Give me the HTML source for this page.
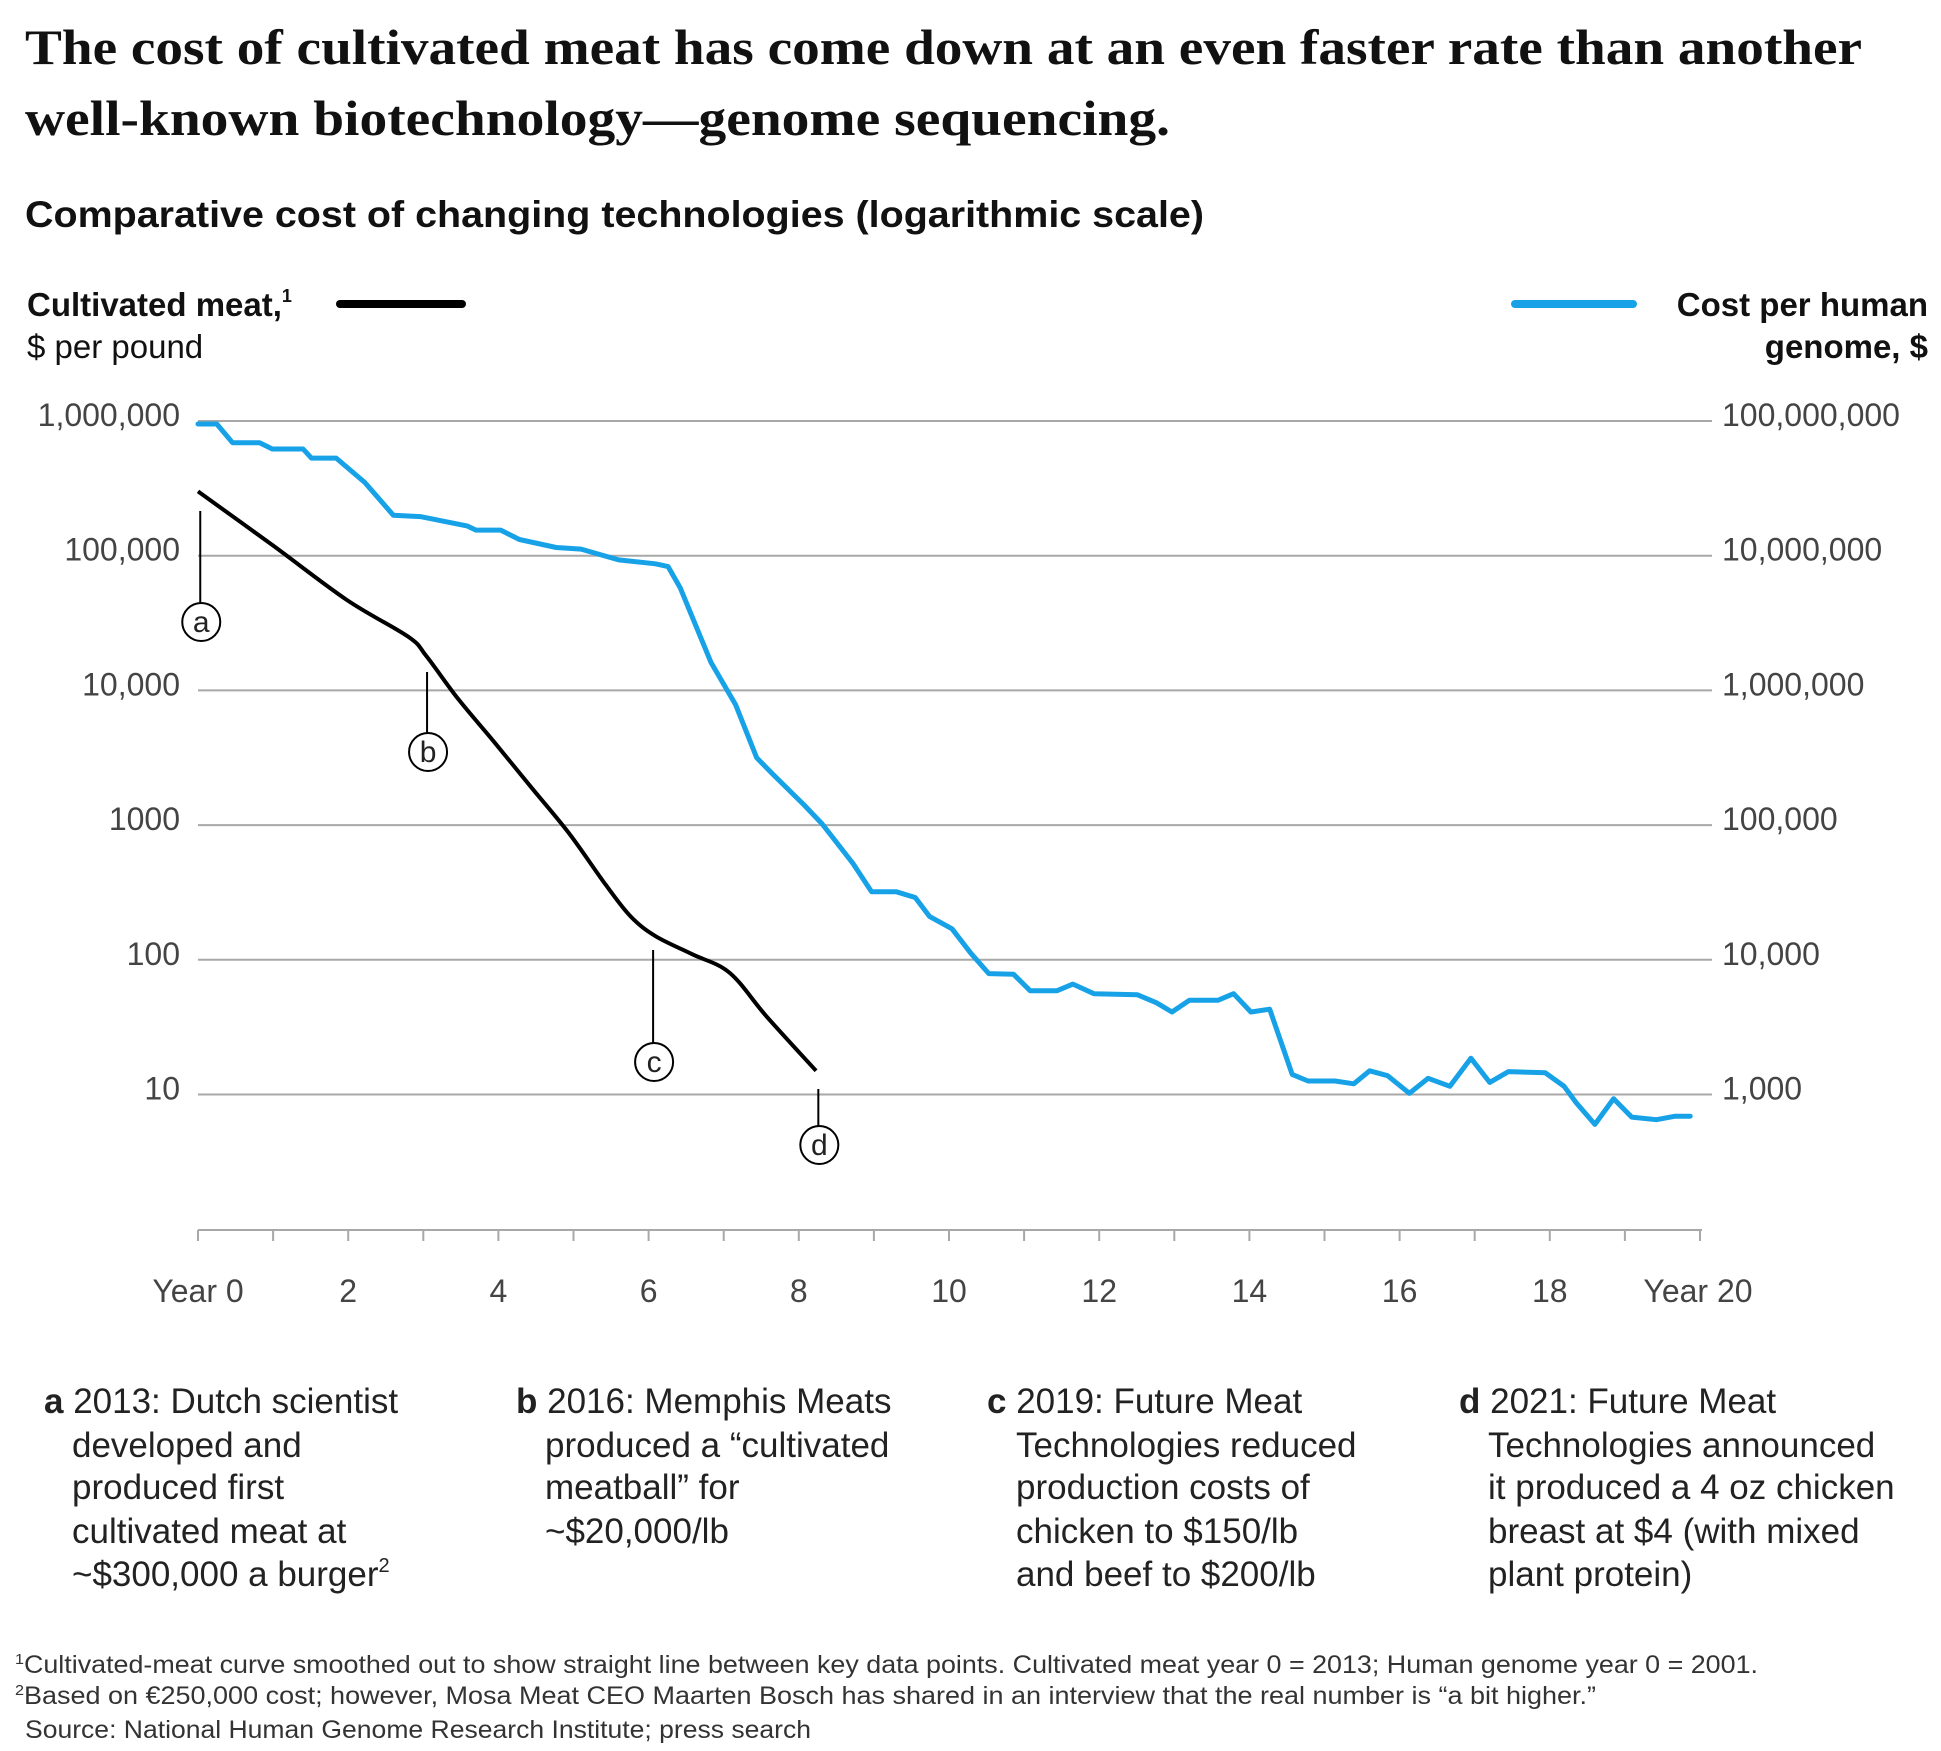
<!DOCTYPE html>
<html><head><meta charset="utf-8"><style>
html,body{margin:0;padding:0;background:#fff;}
svg{display:block;}
text{font-family:"Liberation Sans",sans-serif;}
</style></head><body>
<svg id="chart" width="1941" height="1751" viewBox="0 0 1941 1751" xmlns="http://www.w3.org/2000/svg">
<g font-weight="bold" font-size="50" fill="#111">
<text x="25" y="64" textLength="1837" lengthAdjust="spacingAndGlyphs" style="font-family:'Liberation Serif',serif">The cost of cultivated meat has come down at an even faster rate than another</text>
<text x="25" y="135" textLength="1145" lengthAdjust="spacingAndGlyphs" style="font-family:'Liberation Serif',serif">well-known biotechnology—genome sequencing.</text>
</g>
<text x="25" y="227" font-size="37" font-weight="bold" fill="#111" textLength="1179" lengthAdjust="spacingAndGlyphs">Comparative cost of changing technologies (logarithmic scale)</text>
<g>
<text x="27" y="316" font-size="33" font-weight="bold" fill="#111">Cultivated meat,<tspan font-size="18" dy="-14">1</tspan></text>
<text x="27" y="358" font-size="33" fill="#111">$ per pound</text>
<line x1="340" y1="304" x2="462" y2="304" stroke="#000" stroke-width="8" stroke-linecap="round"/>
</g>
<g>
<text x="1928" y="316" font-size="33" font-weight="bold" fill="#111" text-anchor="end">Cost per human</text>
<text x="1928" y="358" font-size="33" font-weight="bold" fill="#111" text-anchor="end">genome, $</text>
<line x1="1515" y1="304" x2="1633" y2="304" stroke="#17a2e8" stroke-width="8" stroke-linecap="round"/>
</g>
<g id="grid"></g>
<g id="axes"></g>
<g id="series"></g>
<g id="annot"></g>
<g font-size="35" fill="#222">
<text x="44" y="1413"><tspan font-weight="bold">a</tspan> 2013: Dutch scientist</text>
<text x="72" y="1457">developed and</text>
<text x="72" y="1499">produced first</text>
<text x="72" y="1543">cultivated meat at</text>
<text x="72" y="1586">~$300,000 a burger<tspan font-size="20" dy="-14">2</tspan></text>
<text x="516" y="1413"><tspan font-weight="bold">b</tspan> 2016: Memphis Meats</text>
<text x="545" y="1457">produced a “cultivated</text>
<text x="545" y="1499">meatball” for</text>
<text x="545" y="1543">~$20,000/lb</text>
<text x="987" y="1413"><tspan font-weight="bold">c</tspan> 2019: Future Meat</text>
<text x="1016" y="1457">Technologies reduced</text>
<text x="1016" y="1499">production costs of</text>
<text x="1016" y="1543">chicken to $150/lb</text>
<text x="1016" y="1586">and beef to $200/lb</text>
<text x="1459" y="1413"><tspan font-weight="bold">d</tspan> 2021: Future Meat</text>
<text x="1488" y="1457">Technologies announced</text>
<text x="1488" y="1499">it produced a 4 oz chicken</text>
<text x="1488" y="1543">breast at $4 (with mixed</text>
<text x="1488" y="1586">plant protein)</text>
</g>
<g font-size="25" fill="#333">
<text x="15" y="1673" textLength="1743" lengthAdjust="spacingAndGlyphs"><tspan font-size="15" dy="-9">1</tspan><tspan dy="9">Cultivated-meat curve smoothed out to show straight line between key data points. Cultivated meat year 0 = 2013; Human genome year 0 = 2001.</tspan></text>
<text x="15" y="1704" textLength="1581" lengthAdjust="spacingAndGlyphs"><tspan font-size="15" dy="-9">2</tspan><tspan dy="9">Based on €250,000 cost; however, Mosa Meat CEO Maarten Bosch has shared in an interview that the real number is “a bit higher.”</tspan></text>
<text x="25" y="1738" textLength="786" lengthAdjust="spacingAndGlyphs">Source: National Human Genome Research Institute; press search</text>
</g>
</svg>
<script>
const leftTicks = ["1,000,000","100,000","10,000","1000","100","10"];
const rightTicks = ["100,000,000","10,000,000","1,000,000","100,000","10,000","1,000"];
const xTickLabels = ["Year 0","2","4","6","8","10","12","14","16","18","Year 20"];
const meatYears = [0,0.99,1.98,2.8,3.04,3.46,3.95,4.44,4.94,5.43,5.76,6.09,6.58,7.08,7.57,8.23];
const meatCost = [300000,120000,47000,25000,18000,8700,4100,1900,870,360,210,150,110,80,38,15];
const genomeYears = [0,0.25,0.46,0.82,0.99,1.4,1.51,1.84,2.22,2.6,2.96,3.59,3.7,4.03,4.28,4.77,5.1,5.6,6.09,6.26,6.42,6.83,7.16,7.44,7.65,8.07,8.31,8.72,8.97,9.3,9.55,9.74,10.04,10.29,10.53,10.86,11.08,11.44,11.65,11.93,12.51,12.76,12.97,13.2,13.58,13.79,14.02,14.27,14.57,14.78,15.14,15.39,15.6,15.84,16.13,16.38,16.67,16.95,17.2,17.45,17.94,18.19,18.35,18.6,18.85,19.09,19.42,19.67,19.87];
const genomeCost = [95000000,95000000,69000000,69000000,62000000,62000000,53000000,53000000,35000000,20000000,19500000,16600000,15500000,15500000,13200000,11500000,11200000,9300000,8700000,8300000,5800000,1620000,780000,316000,240000,141000,102000,52000,32000,32000,29000,21000,17000,11200,7900,7800,5900,5900,6600,5600,5500,4800,4100,5000,5000,5600,4100,4300,1410,1260,1260,1200,1500,1380,1020,1320,1150,1860,1230,1480,1450,1150,870,600,930,680,650,690,690];
const annotLabels = ["a","b","c","d"];
const annotYears = [0.03,3.05,6.06,8.26];

const NS="http://www.w3.org/2000/svg";
const X0=198, X1=1700, YTOP=421, DEC=134.7, AXY=1230;
function xs(y){return X0+(X1-X0)*y/20;}
function yl(v){return YTOP+(6-Math.log10(v))*DEC;}
function yr(v){return YTOP+(8-Math.log10(v))*DEC;}
function mk(tag,attrs,parent){const e=document.createElementNS(NS,tag);for(const k in attrs)e.setAttribute(k,attrs[k]);parent.appendChild(e);return e;}
const grid=document.getElementById('grid'), axes=document.getElementById('axes'), series=document.getElementById('series'), annot=document.getElementById('annot');
leftTicks.forEach((t,i)=>{
  const y=YTOP+i*DEC;
  const l=mk('line',{x1:X0,x2:1712,y1:y,y2:y,stroke:'#a8a8a8','stroke-width':2},grid);
  
  
  const tl=mk('text',{x:180,y:y+5,'font-size':32,fill:'#444','text-anchor':'end'},axes);
  tl.textContent=t;
  
  
  const tr=mk('text',{x:1722,y:y+5,'font-size':32,fill:'#444'},axes);
  tr.textContent=rightTicks[i];
  
  
});
const ax=mk('line',{x1:X0,x2:X1+2,y1:AXY,y2:AXY,stroke:'#a8a8a8','stroke-width':2},axes);


for(let i=0;i<=20;i++){
  const t=mk('line',{x1:xs(i),x2:xs(i),y1:AXY,y2:AXY+11,stroke:'#a8a8a8','stroke-width':2},axes);
  
  
}
xTickLabels.forEach((t,i)=>{
  const e=mk('text',{x:xs(i*2)+(i==10?-2:0),y:1302,'font-size':32,fill:'#444','text-anchor':'middle'},axes);
  e.textContent=t;
  
  
});
let gp=genomeYears.map((y,i)=>(i?'L':'M')+xs(y).toFixed(1)+','+yr(genomeCost[i]).toFixed(1)).join(' ');
const g=mk('path',{d:gp,fill:'none',stroke:'#17a2e8','stroke-width':5,'stroke-linejoin':'round','stroke-linecap':'round'},series);


const mp=meatYears.map((y,i)=>[xs(y),yl(meatCost[i])]);
let d='M'+mp[0][0]+','+mp[0][1];
for(let i=0;i<mp.length-1;i++){
  const p0=mp[Math.max(0,i-1)],p1=mp[i],p2=mp[i+1],p3=mp[Math.min(mp.length-1,i+2)];
  d+=' C'+(p1[0]+(p2[0]-p0[0])/6)+','+(p1[1]+(p2[1]-p0[1])/6)+' '+(p2[0]-(p3[0]-p1[0])/6)+','+(p2[1]-(p3[1]-p1[1])/6)+' '+p2[0]+','+p2[1];
}
const m=mk('path',{d:d,fill:'none',stroke:'#000','stroke-width':4},series);


const annotTop=[511,672,950,1089], annotBot=[603,733,1043,1126];
annotLabels.forEach((lab,i)=>{
  const x=xs(annotYears[i]);
  const l=mk('line',{x1:x,x2:x,y1:annotTop[i],y2:annotBot[i],stroke:'#000','stroke-width':2},annot);
  
  
  const c=mk('circle',{cx:x+1,cy:annotBot[i]+19,r:19,fill:'#fff',stroke:'#000','stroke-width':2},annot);
  
  
  const t=mk('text',{x:x+1,y:annotBot[i]+29,'font-size':30,fill:'#222','text-anchor':'middle'},annot);
  t.textContent=lab;
  
  
});
</script>
</body></html>
